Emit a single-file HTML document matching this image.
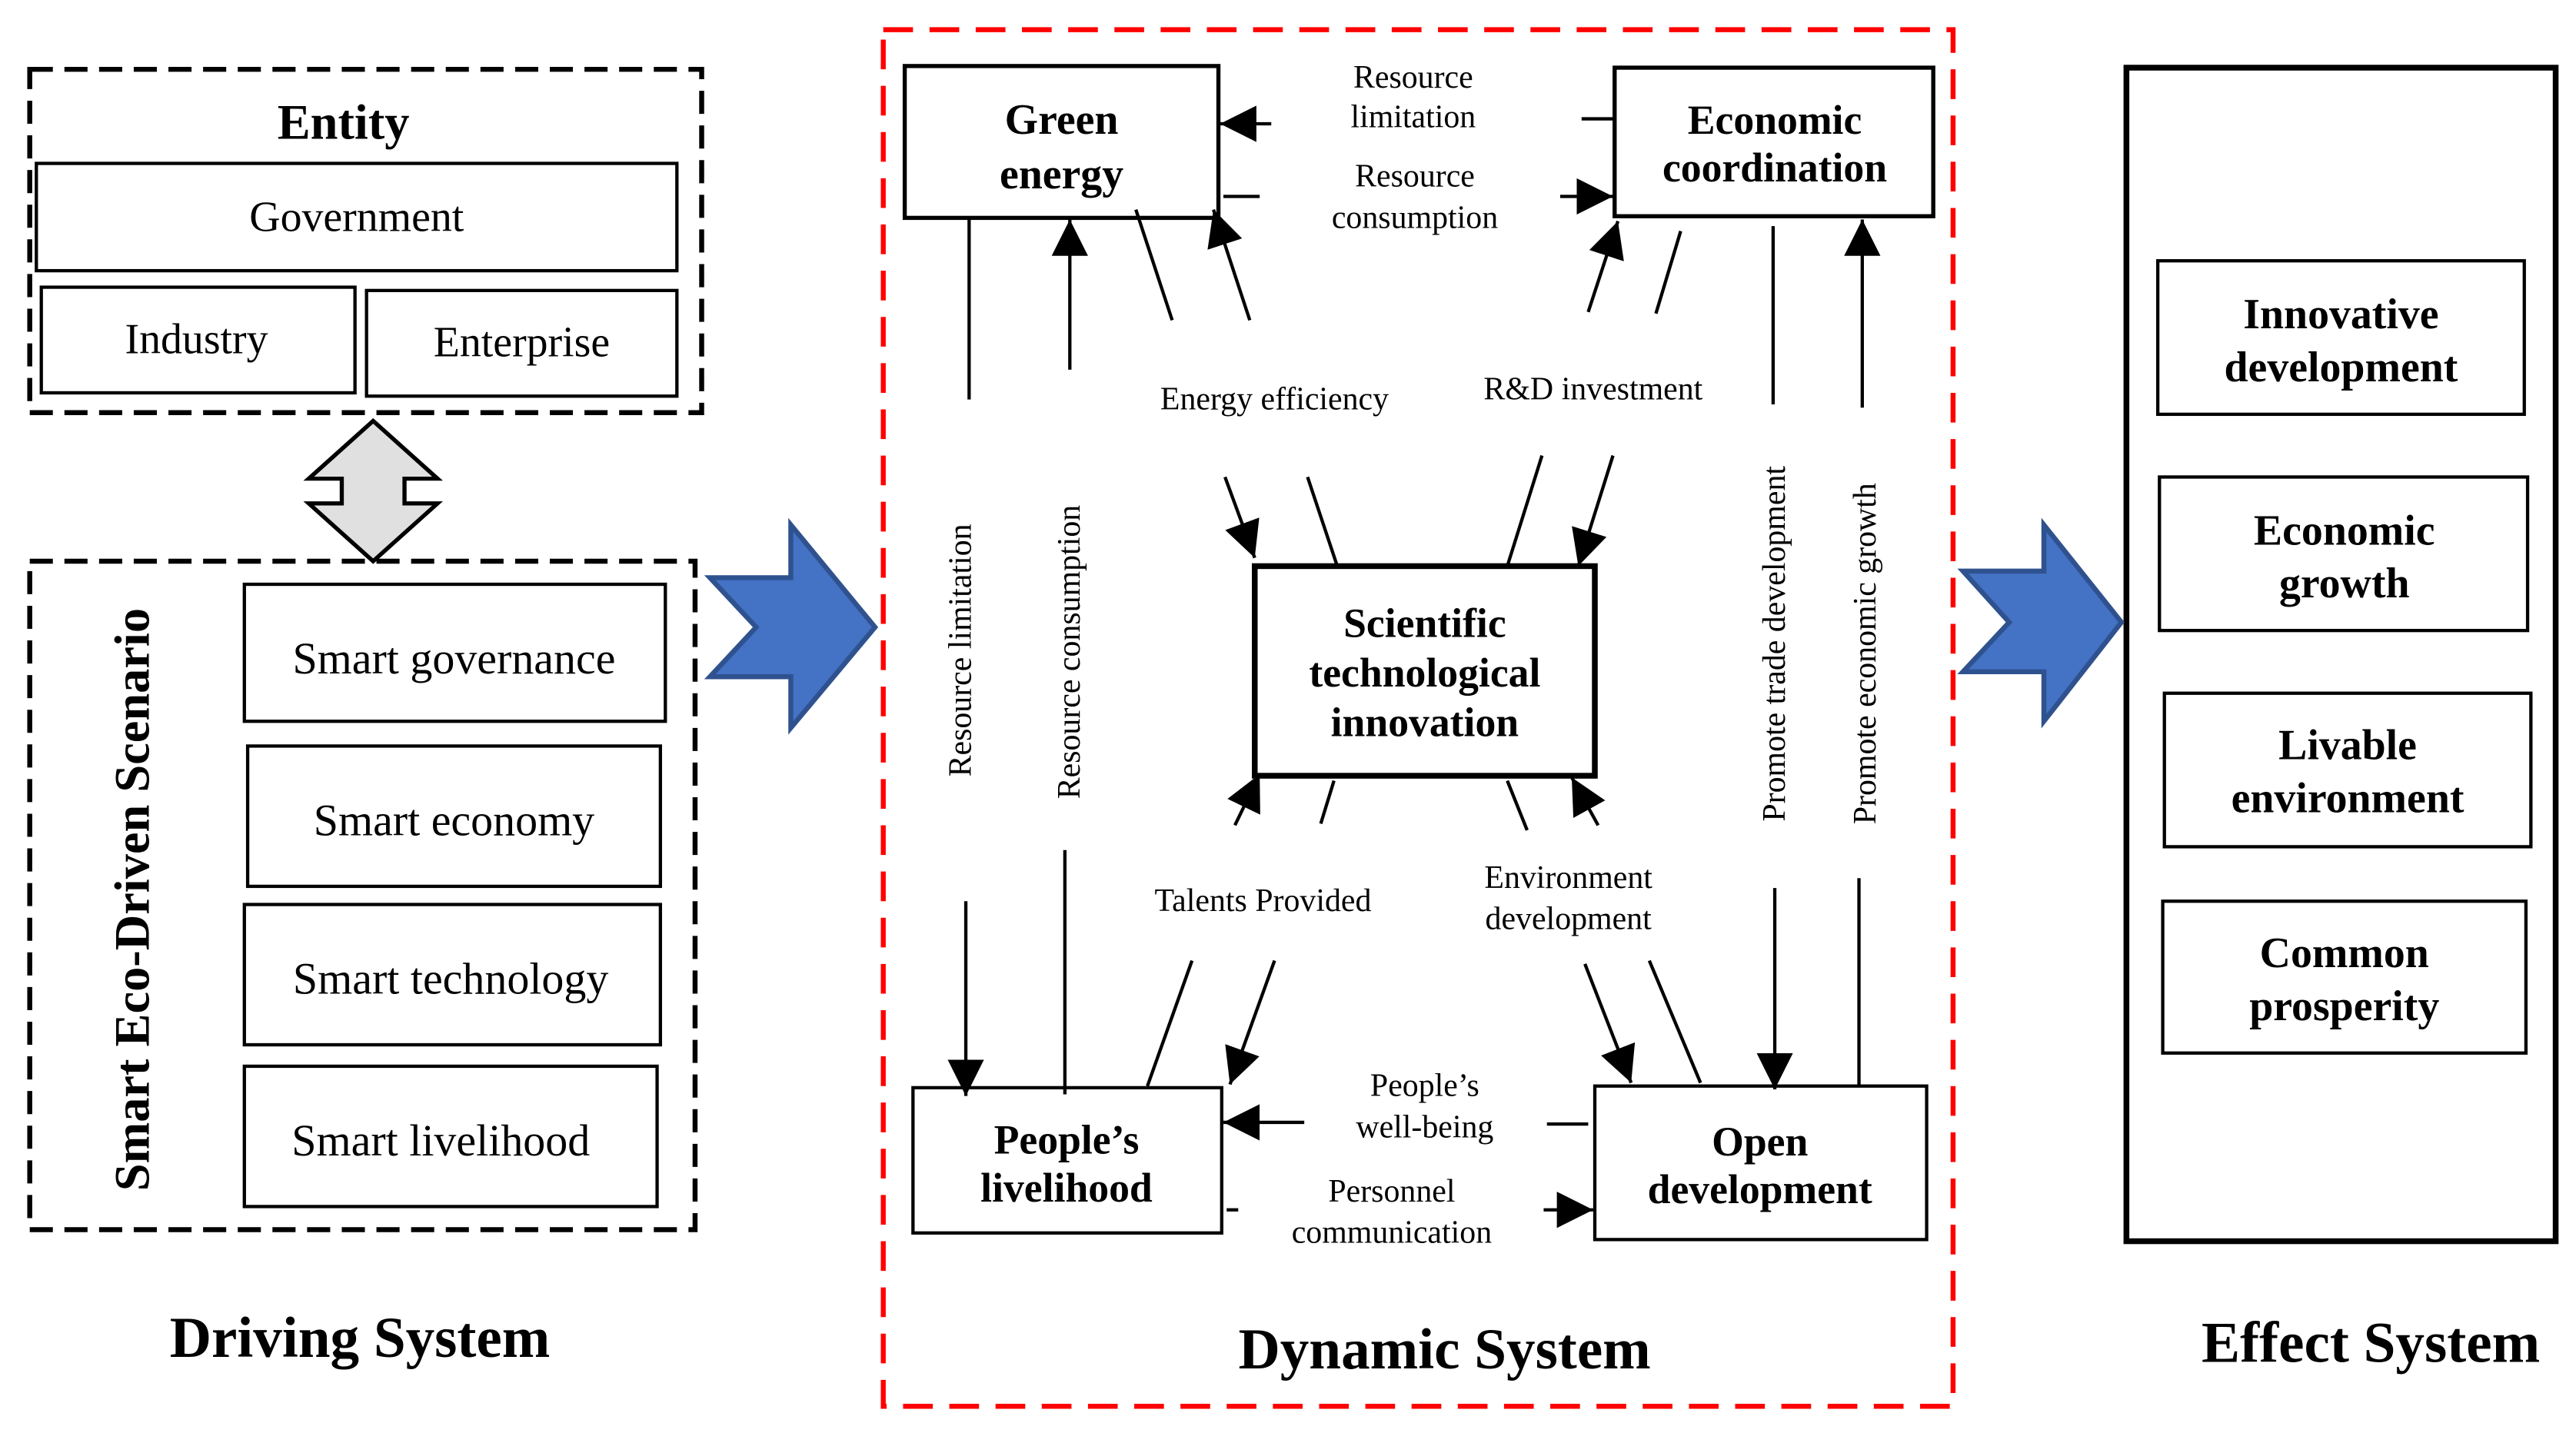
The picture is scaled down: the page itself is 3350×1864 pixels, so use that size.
<!DOCTYPE html>
<html><head><meta charset="utf-8"><style>
html,body{margin:0;padding:0;background:#fff;}
svg{display:block;}
text{font-family:"Liberation Serif",serif;fill:#000;}
.b{font-weight:bold;}
</style></head><body>
<svg width="3350" height="1864" viewBox="0 0 1560.3 868.2" xmlns="http://www.w3.org/2000/svg">
<defs>
<marker id="a2" viewBox="0 0 10 10" refX="10" refY="5" markerWidth="22" markerHeight="22" markerUnits="userSpaceOnUse" orient="auto">
<path d="M0,0 L10,5 L0,10 z" fill="#000"/></marker>
</defs>
<g fill="none" stroke="#000">
<rect x="18" y="42" width="407" height="208" stroke-width="3" stroke-dasharray="14,7"/>
<rect x="22" y="99" width="388" height="65" stroke-width="2"/>
<rect x="25" y="174" width="190" height="64" stroke-width="2"/>
<rect x="222" y="176" width="188" height="64" stroke-width="2"/>
<rect x="18" y="340" width="403" height="405" stroke-width="3" stroke-dasharray="14,7"/>
<rect x="148" y="354" width="255" height="83" stroke-width="2"/>
<rect x="150" y="452" width="250" height="85" stroke-width="2"/>
<rect x="148" y="548" width="252" height="85" stroke-width="2"/>
<rect x="148" y="646" width="250" height="85" stroke-width="2"/>
<polygon points="226,255 265,290 245,290 245,305 265,305 226,340 187,305 207,305 207,290 187,290" fill="#e0e0e0" stroke-width="2.5"/>
<rect x="535" y="18" width="648" height="834" stroke="#f00" stroke-width="3" stroke-dasharray="18,10"/>
<rect x="548" y="40" width="190" height="92" stroke-width="2.5"/>
<rect x="978" y="41" width="193" height="90" stroke-width="2.5"/>
<rect x="760" y="343" width="206" height="127" stroke-width="3.5"/>
<rect x="553" y="659" width="187" height="88" stroke-width="2"/>
<rect x="966" y="658" width="201" height="93" stroke-width="2"/>
<rect x="1288" y="41" width="260" height="711" stroke-width="3.5"/>
<rect x="1307" y="158" width="222" height="93" stroke-width="2"/>
<rect x="1308" y="289" width="223" height="93" stroke-width="2"/>
<rect x="1311" y="420" width="222" height="93" stroke-width="2"/>
<rect x="1310" y="546" width="220" height="92" stroke-width="2"/>
<g stroke-width="2">
<line x1="770" y1="75" x2="739" y2="75" marker-end="url(#a2)"/>
<line x1="958" y1="72" x2="978" y2="72"/>
<line x1="741" y1="119" x2="763" y2="119"/>
<line x1="945" y1="119" x2="977" y2="119" marker-end="url(#a2)"/>
<line x1="587" y1="133" x2="587" y2="242"/>
<line x1="648" y1="224" x2="648" y2="133" marker-end="url(#a2)"/>
<line x1="688" y1="127" x2="710" y2="194"/>
<line x1="757" y1="194" x2="735" y2="127" marker-end="url(#a2)"/>
<line x1="962" y1="189" x2="980" y2="134" marker-end="url(#a2)"/>
<line x1="1018" y1="140" x2="1003" y2="190"/>
<line x1="1074" y1="137" x2="1074" y2="245"/>
<line x1="1128" y1="247" x2="1128" y2="133" marker-end="url(#a2)"/>
<line x1="742" y1="289" x2="760" y2="338" marker-end="url(#a2)"/>
<line x1="792" y1="289" x2="810" y2="343"/>
<line x1="934" y1="276" x2="913" y2="343"/>
<line x1="977" y1="276" x2="956" y2="343" marker-end="url(#a2)"/>
<line x1="748" y1="500" x2="763" y2="469" marker-end="url(#a2)"/>
<line x1="808" y1="473" x2="800" y2="499"/>
<line x1="913" y1="473" x2="925" y2="503"/>
<line x1="968" y1="500" x2="952" y2="471" marker-end="url(#a2)"/>
<line x1="585" y1="546" x2="585" y2="664" marker-end="url(#a2)"/>
<line x1="645" y1="515" x2="645" y2="663"/>
<line x1="722" y1="582" x2="695" y2="658"/>
<line x1="772" y1="582" x2="745" y2="657" marker-end="url(#a2)"/>
<line x1="960" y1="584" x2="988" y2="656" marker-end="url(#a2)"/>
<line x1="999" y1="582" x2="1030" y2="656"/>
<line x1="1075" y1="538" x2="1075" y2="660" marker-end="url(#a2)"/>
<line x1="1126" y1="532" x2="1126" y2="658"/>
<line x1="790" y1="680" x2="741" y2="680" marker-end="url(#a2)"/>
<line x1="937" y1="681" x2="962" y2="681"/>
<line x1="743" y1="733" x2="750" y2="733"/>
<line x1="935" y1="733" x2="965" y2="733" marker-end="url(#a2)"/>
</g>
</g>
<polygon points="430,350 479,350 479,318 530,380 479,441 479,410 430,410 458,380" fill="#4472c4" stroke="#2f528f" stroke-width="3"/>
<polygon points="1189,346 1238,346 1238,318 1285,377 1238,437 1238,407 1189,407 1217,377" fill="#4472c4" stroke="#2f528f" stroke-width="3"/>
<g text-anchor="middle">
<text x="208" y="84" font-size="30" class="b">Entity</text>
<text x="216" y="140" font-size="26">Government</text>
<text x="119" y="214" font-size="26">Industry</text>
<text x="316" y="216" font-size="26">Enterprise</text>
<text x="275" y="408" font-size="27">Smart governance</text>
<text x="275" y="506" font-size="27">Smart economy</text>
<text x="273" y="602" font-size="27">Smart technology</text>
<text x="267" y="700" font-size="27">Smart livelihood</text>
<text transform="translate(90,545) rotate(-90)" font-size="30" class="b">Smart Eco-Driven Scenario</text>
<text x="218" y="822" font-size="35" class="b">Driving System</text>
<text x="875" y="829" font-size="35" class="b">Dynamic System</text>
<text x="1436" y="825" font-size="35" class="b">Effect System</text>

<text x="643" y="81" font-size="26" class="b">Green</text>
<text x="643" y="114" font-size="26" class="b">energy</text>
<text x="1075" y="81" font-size="25" class="b">Economic</text>
<text x="1075" y="110" font-size="25" class="b">coordination</text>
<text x="863" y="386" font-size="25" class="b">Scientific</text>
<text x="863" y="416" font-size="25" class="b">technological</text>
<text x="863" y="446" font-size="25" class="b">innovation</text>
<text x="646" y="699" font-size="25" class="b">People’s</text>
<text x="646" y="728" font-size="25" class="b">livelihood</text>
<text x="1066" y="700" font-size="25" class="b">Open</text>
<text x="1066" y="729" font-size="25" class="b">development</text>

<text x="1418" y="199" font-size="26" class="b">Innovative</text>
<text x="1418" y="231" font-size="26" class="b">development</text>
<text x="1420" y="330" font-size="26" class="b">Economic</text>
<text x="1420" y="362" font-size="26" class="b">growth</text>
<text x="1422" y="460" font-size="26" class="b">Livable</text>
<text x="1422" y="492" font-size="26" class="b">environment</text>
<text x="1420" y="586" font-size="26" class="b">Common</text>
<text x="1420" y="618" font-size="26" class="b">prosperity</text>

<g font-size="19.5">
<text x="856" y="53">Resource</text>
<text x="856" y="77">limitation</text>
<text x="857" y="113">Resource</text>
<text x="857" y="138">consumption</text>
<text x="772" y="248">Energy efficiency</text>
<text x="965" y="242">R&amp;D investment</text>
<text x="765" y="552">Talents Provided</text>
<text x="950" y="538">Environment</text>
<text x="950" y="563">development</text>
<text x="863" y="664">People’s</text>
<text x="863" y="689">well-being</text>
<text x="843" y="728">Personnel</text>
<text x="843" y="753">communication</text>
<text transform="translate(588,394) rotate(-90)">Resource limitation</text>
<text transform="translate(654,395) rotate(-90)">Resource consumption</text>
<text transform="translate(1081,390) rotate(-90)">Promote trade development</text>
<text transform="translate(1136,396) rotate(-90)">Promote economic growth</text>
</g>
</g>
</svg>
</body></html>
